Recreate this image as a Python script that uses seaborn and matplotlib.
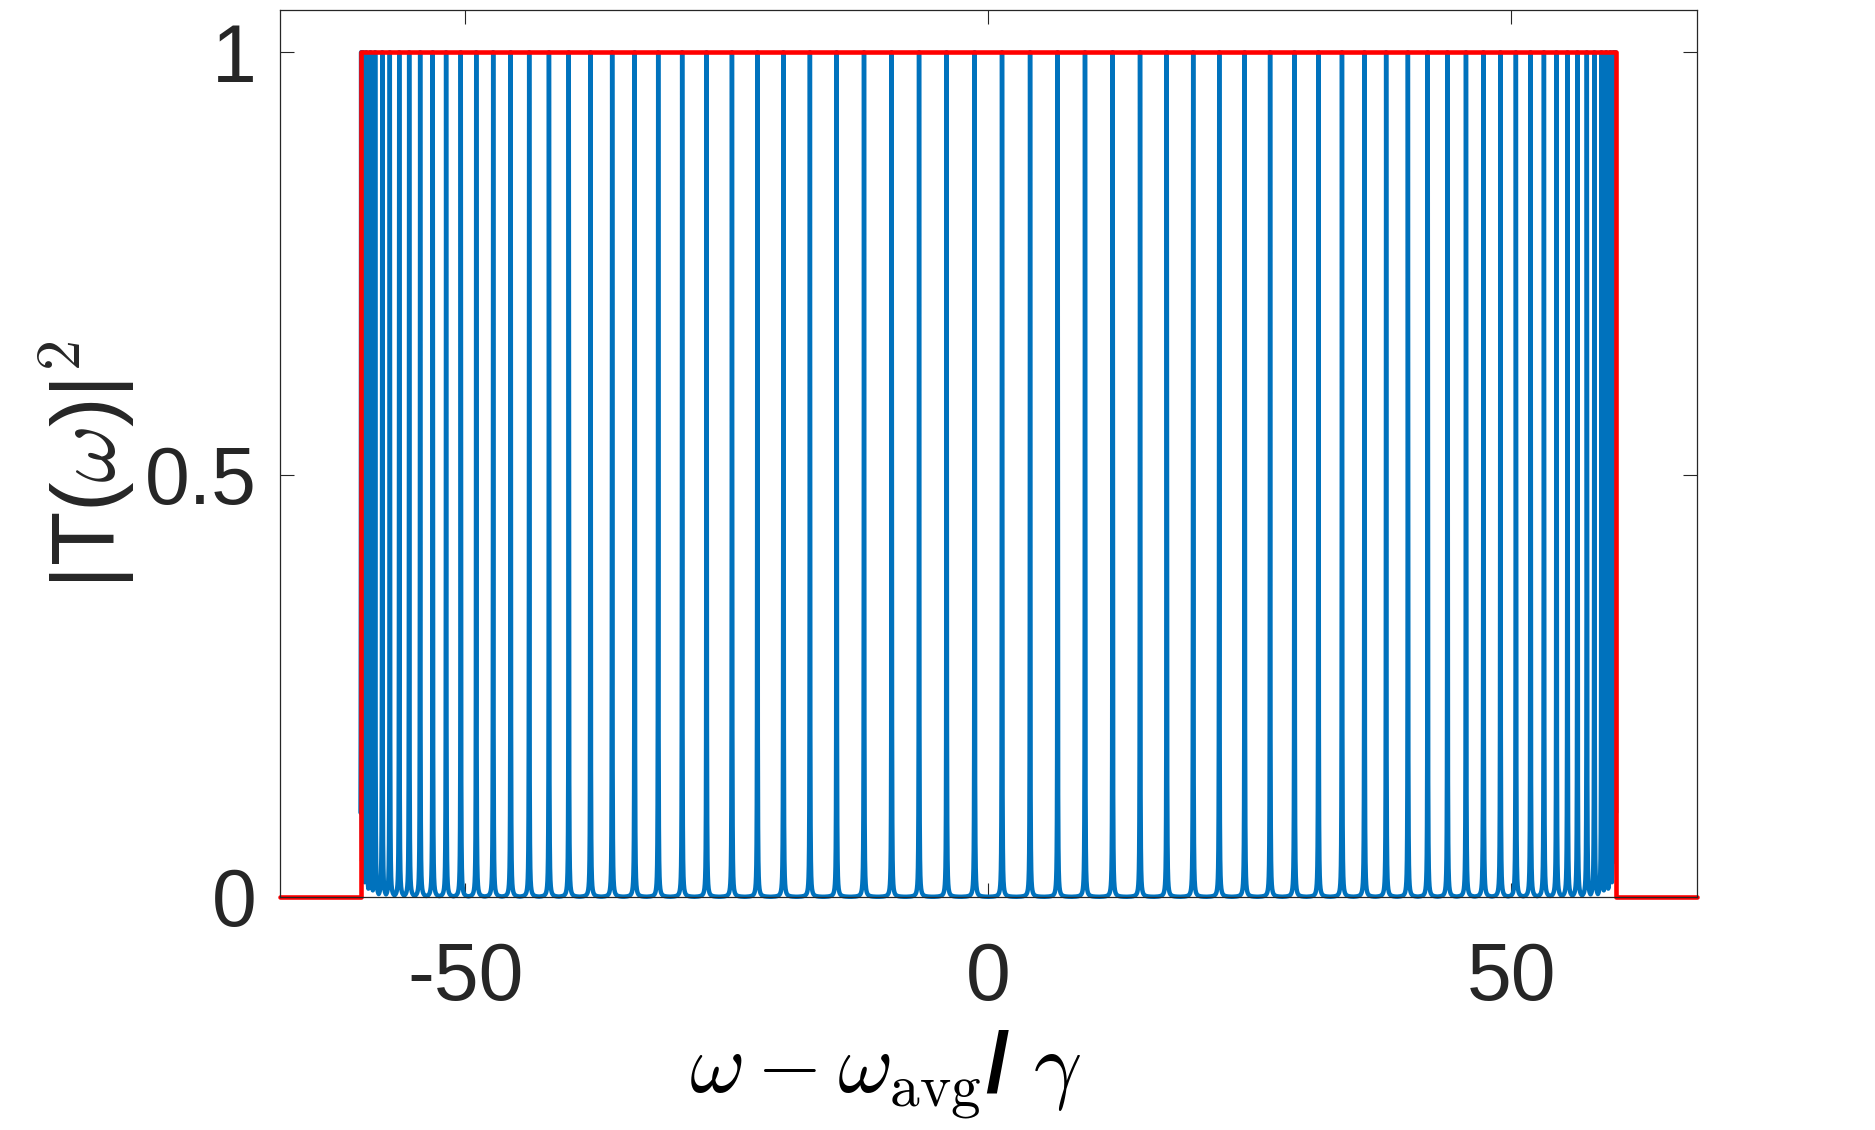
import numpy as np
import pandas as pd
import seaborn as sns
from matplotlib import pyplot as plt

# peak centres of |T(w)|^2 (units of gamma)
peak_pos = [
    -59.94, -59.75, -59.45, -59.05, -58.6, -57.92, -57.2, -56.3, -55.35, -54.3,
    -53.1, -51.82, -50.42, -48.94, -47.32, -45.65, -43.88, -41.99, -40.1, -38.02,
    -35.95, -33.8, -31.55, -29.26, -26.93, -24.5, -22.07, -19.58, -17.05, -14.5,
    -11.88, -9.24, -6.62, -3.99, -1.31,
    1.31, 3.99, 6.62, 9.24, 11.88, 14.5, 17.05, 19.58, 22.07, 24.5,
    26.93, 29.26, 31.55, 33.8, 35.95, 38.02, 40.1, 41.99, 43.88, 45.65,
    47.32, 48.94, 50.42, 51.82, 53.1, 54.3, 55.35, 56.3, 57.2, 57.92,
    58.6, 59.05, 59.45, 59.75, 59.94,
]
peak_width = 0.02  # half width of each resonance

# band edges (red curve)
band_x = [-67.7, -60, -60, 60, 60, 67.7]
band_y = [0, 0, 1, 1, 0, 0]

x_ticks = [-50, 0, 50]
y_ticks = [0, 0.5, 1]
y_ticklabels = ["0", "0.5", "1"]

# transmission curve built from the peaks
w = np.linspace(-60, 60, 240001)
centres = np.array(peak_pos)[:, None]
T = (1.0 / (1.0 + ((w[None, :] - centres) / peak_width) ** 2)).max(axis=0)
trans_df = pd.DataFrame({"w": w, "T": T})
band_df = pd.DataFrame({"w": band_x, "T": band_y})

sns.set_theme(style="white")
plt.rcParams["font.family"] = ["Liberation Sans", "DejaVu Sans"]
plt.rcParams["mathtext.fontset"] = "cm"
plt.rcParams["axes.unicode_minus"] = False

dark = "#262626"
fig, ax = plt.subplots(figsize=(18.75, 11.3), dpi=100)
fig.subplots_adjust(left=0.1493, right=0.9049, top=0.9912, bottom=0.2062)

sns.lineplot(data=trans_df, x="w", y="T", ax=ax, color="#0072BD",
             linewidth=3.2, estimator=None, sort=False)
sns.lineplot(data=band_df, x="w", y="T", ax=ax, color="#FF0000",
             linewidth=3.3, estimator=None, sort=False)
for line in ax.lines:
    line.set_clip_on(False)

ax.set_xlim(-67.7, 67.7)
ax.set_ylim(0, 1.05)
ax.set_xticks(x_ticks)
ax.set_yticks(y_ticks)
ax.set_yticklabels(y_ticklabels)

for s in ax.spines.values():
    s.set_visible(True)
    s.set_color(dark)
    s.set_linewidth(0.9)

ax.tick_params(axis="both", direction="in", length=10, width=0.8, color=dark,
               labelsize=58, labelcolor=dark, top=True, right=True,
               bottom=True, left=True)
ax.tick_params(axis="x", pad=32)
ax.tick_params(axis="y", pad=16.5)

ax.set_xlabel(r"$\omega - \omega_{\mathrm{avg}}$/ $\gamma$", fontsize=61,
              fontweight="bold", color="black")
ax.xaxis.set_label_coords(0.427, -0.148)
ax.set_ylabel(r"|T($\omega$)|$^{\mathsf{2}}$", fontsize=64, color=dark)
ax.yaxis.set_label_coords(-0.101, 0.487)

plt.savefig("out.png", dpi=100)
